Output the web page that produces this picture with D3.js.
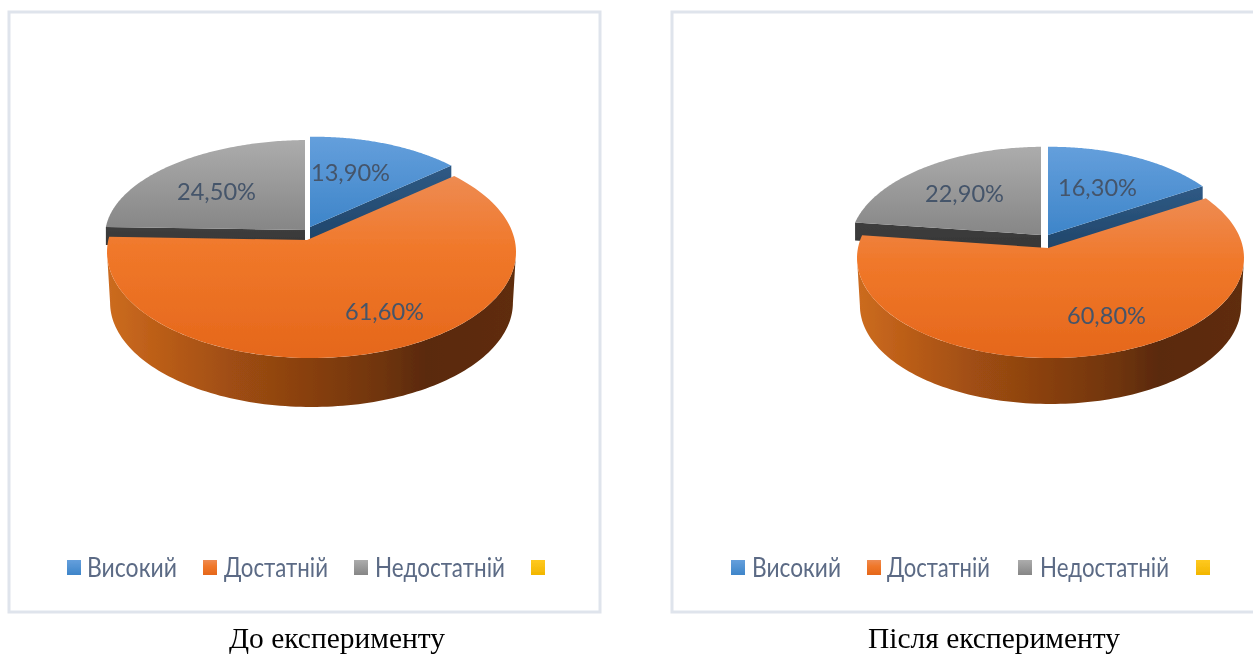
<!DOCTYPE html>
<html>
<head>
<meta charset="utf-8">
<script src="https://cdn.jsdelivr.net/npm/d3@7/dist/d3.min.js"></script>
<style>html,body{margin:0;padding:0;background:#fff;overflow:hidden}svg{display:block}</style>
</head>
<body>
<svg id="c" width="1253" height="654"></svg>
<script>
const categories = ["Високий", "Достатній", "Недостатній", ""];
const valuesBefore = [13.9, 61.6, 24.5];
const valuesAfter = [16.3, 60.8, 22.9];
const captions = ["До експерименту", "Після експерименту"];

const charts = [
  { values: valuesBefore, caption: captions[0], captionX: 337, captionW: 216,
    frame: [9, 12, 591, 600],
    offsetX: 4.5, offsetY: [11.5, 12, 6], rx: 204.5, ry: 106, depth: 50.6, bottomScale: 0.985, wall: 18,
    apex: [[310, 227], [307, 240], [305, 230]],
    scale: [[0.96, 0.96], [1, 1], [1, 0.906]],
    labels: [[350.5, 172], [384.5, 311], [216.5, 191]],
    swatchX: [67, 203, 354, 531],
    legendX: [[87, 90], [224, 104], [375, 130]] },
  { values: valuesAfter, caption: captions[1], captionX: 994, captionW: 252,
    frame: [672, 12, 600, 600],
    offsetX: 2.5, offsetY: [9.8, 10, 9.8], rx: 193.5, ry: 100, depth: 47.5, bottomScale: 0.985, wall: 18,
    apex: [[1048, 235], [1048, 248], [1041, 235]],
    scale: [[0.98, 0.98], [1, 1], [1, 0.98]],
    labels: [[1097.5, 187], [1106.5, 315], [964.5, 193]],
    swatchX: [731, 867, 1018, 1196],
    legendX: [[752, 89], [887, 103], [1040, 129]] }
];

const svg = d3.select("#c");
const defs = svg.append("defs");
defs.append("filter").attr("id", "soft")
  .attr("filterUnits", "userSpaceOnUse").attr("x", 0).attr("y", 0).attr("width", 1253).attr("height", 654)
  .append("feGaussianBlur").attr("stdDeviation", 0.45);
function grad(id, stops, horiz) {
  const g = defs.append("linearGradient").attr("id", id)
    .attr("x1", 0).attr("y1", 0).attr("x2", horiz ? 1 : 0).attr("y2", horiz ? 0 : 1);
  stops.forEach(s => g.append("stop").attr("offset", s[0]).attr("stop-color", s[1]));
}
grad("f0", [[0, "#649fdc"], [1, "#3e85c9"]]);
grad("f1", [[0, "#ee8b52"], [0.4, "#f0782a"], [1, "#e5671b"]]);
grad("f2", [[0, "#acacac"], [1, "#868686"]]);
grad("f3", [[0, "#ffc91f"], [1, "#f2b600"]]);
grad("w0", [[0, "#2f5a85"], [1, "#1f4468"]]);
grad("w2", [[0, "#3d3d3d"], [1, "#363636"]]);
grad("side", [[0, "#cc6c20"], [0.12, "#bc5e18"], [0.3, "#a04e12"], [0.5, "#873f10"], [0.68, "#6e340c"], [0.78, "#5a2908"], [1, "#5f2d0a"]], true);

const root = svg.append("g").attr("filter", "url(#soft)");
const line = d3.line().x(d => d[0]).y(d => d[1]);
const pie = d3.pie().sort(null).value(d => d).startAngle(0).endAngle(2 * Math.PI);

charts.forEach(ch => {
  const [fx, fy, fw, fh] = ch.frame;
  root.append("rect").attr("x", fx).attr("y", fy).attr("width", fw).attr("height", fh)
    .attr("fill", "#fff").attr("stroke", "#dfe4ec").attr("stroke-width", 3);

  const arcs = pie(ch.values);
  const geom = i => {
    const [sx, sy] = ch.scale[i], [ax, ay] = ch.apex[i];
    return { ax, ay, cx: ax + ch.offsetX * sx, cy: ay + ch.offsetY[i], rx: ch.rx * sx, ry: ch.ry * sy };
  };
  // point where a ray at angle a leaving the apex meets the rim ellipse
  const rim = (g, a) => {
    const px = (g.ax - g.cx) / g.rx, py = (g.ay - g.cy) / g.ry;
    const dx = Math.sin(a), dy = -Math.cos(a);
    const b = px * dx + py * dy, c = px * px + py * py - 1;
    const t = -b + Math.sqrt(b * b - c);
    return [g.cx + (px + t * dx) * g.rx, g.cy + (py + t * dy) * g.ry];
  };
  const rimPts = (g, a0, a1) => d3.range(0, 121).map(k => rim(g, a0 + (a1 - a0) * k / 120));

  // back slices: cut walls then faces
  [2, 0].forEach(i => {
    const g = geom(i), a = arcs[i];
    const cutA = i === 0 ? a.endAngle : a.startAngle;
    const end = rim(g, cutA);
    const wall = [[g.ax, g.ay], end, [end[0], end[1] + ch.wall], [g.ax, g.ay + ch.wall]];
    root.append("path").attr("d", line(wall) + "Z").attr("fill", `url(#w${i})`);
    root.append("path")
      .attr("d", line([[g.ax, g.ay], ...rimPts(g, a.startAngle, a.endAngle)]) + "Z")
      .attr("fill", `url(#f${i})`);
  });

  // main slice: side wall and face
  const g = geom(1), a = arcs[1];
  const s = ch.bottomScale;
  const top = d3.range(0, 121).map(k => {
    const t = Math.PI / 2 + Math.PI * k / 120;
    return [g.cx + g.rx * Math.sin(t), g.cy - g.ry * Math.cos(t)];
  });
  const bottom = d3.range(120, -1, -1).map(k => {
    const t = Math.PI / 2 + Math.PI * k / 120;
    return [g.cx + g.rx * s * Math.sin(t), g.cy + ch.depth - g.ry * s * Math.cos(t)];
  });
  root.append("path").attr("d", line([...top, ...bottom]) + "Z").attr("fill", "url(#side)");
  root.append("path")
    .attr("d", line([[g.ax, g.ay], ...rimPts(g, a.startAngle, a.endAngle)]) + "Z")
    .attr("fill", "url(#f1)");

  // data labels
  ch.values.forEach((v, i) => {
    root.append("text").attr("x", ch.labels[i][0]).attr("y", ch.labels[i][1] + 8.5)
      .attr("text-anchor", "middle").attr("font-family", "Lato, 'Open Sans', sans-serif")
      .attr("font-size", 24).attr("fill", "#44546a")
      .attr("textLength", 79).attr("lengthAdjust", "spacingAndGlyphs")
      .text(v.toFixed(2).replace(".", ",") + "%");
  });

  // legend
  categories.forEach((c, i) => {
    root.append("rect").attr("x", ch.swatchX[i]).attr("y", 560).attr("width", 14).attr("height", 15)
      .attr("fill", `url(#f${i})`);
    if (c) {
      root.append("text").attr("x", ch.legendX[i][0]).attr("y", 577)
        .attr("font-family", "Lato, 'Open Sans', sans-serif").attr("font-size", 26)
        .attr("fill", "#5b6b85")
        .attr("textLength", ch.legendX[i][1]).attr("lengthAdjust", "spacingAndGlyphs")
        .text(c);
    }
  });

  root.append("text").attr("x", ch.captionX).attr("y", 648).attr("text-anchor", "middle")
    .attr("font-family", "'Liberation Serif', serif").attr("font-size", 29).attr("fill", "#000")
    .attr("textLength", ch.captionW).attr("lengthAdjust", "spacingAndGlyphs")
    .text(ch.caption);
});
</script>
</body>
</html>
